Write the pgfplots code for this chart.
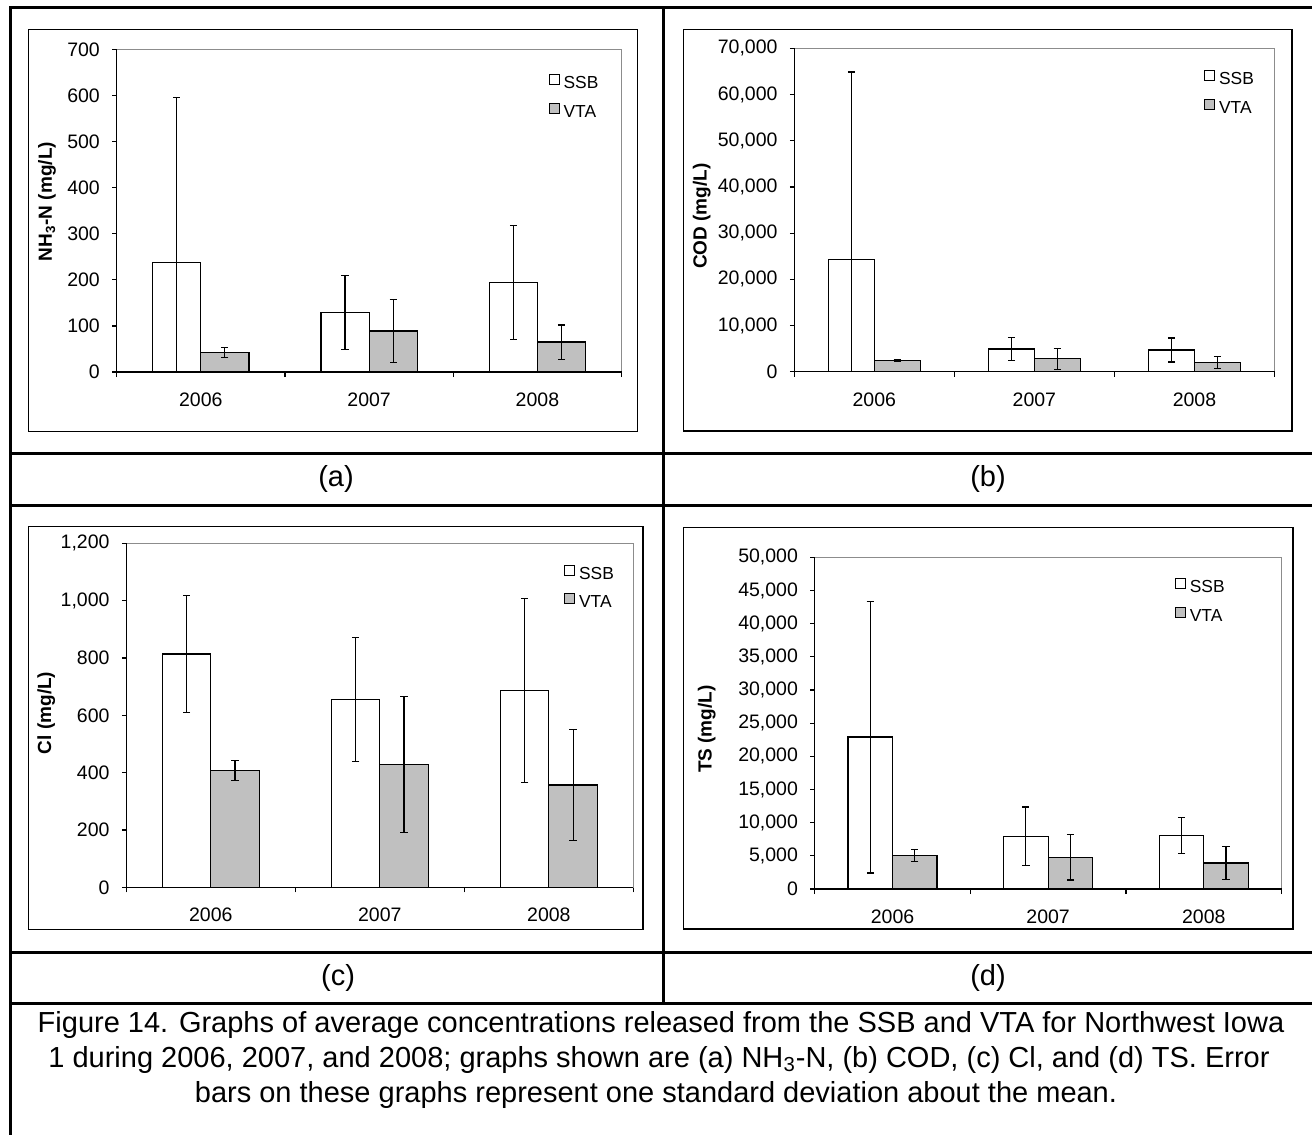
\documentclass[border=0pt]{standalone}
\usepackage{pgfplots}
\pgfplotsset{compat=1.18}
\usepackage{fontspec}
\setmainfont{Liberation Sans}
\definecolor{vtagray}{HTML}{C0C0C0}
\definecolor{plotgray}{HTML}{8C8C8C}
\newcommand{\tickfont}{\fontsize{9.75}{11}\selectfont}
\pgfplotsset{
  panel/.style={
    scale only axis,
    ybar,
    bar width=0.286,
    xmin=-0.5, xmax=2.5, ymin=0,
    xtick={0,1,2},
    xticklabels={2006,2007,2008},
    minor xtick={-0.5,0.5,1.5,2.5},
    major x tick style={draw=none},
    minor x tick style={black,line width=0.6pt},
    y tick style={black,line width=0.6pt},
    tick align=outside,
    major tick length=2.2pt,
    minor tick length=2.5pt,
    xtick pos=bottom, ytick pos=left,
    axis line style={draw=plotgray,line width=0.5pt},
    clip mode=individual,
    tick label style={font=\tickfont},
    /pgf/number format/assume math mode=true,
    /pgf/number format/1000 sep={,},
    scaled y ticks=false,
    yticklabel style={inner sep=0pt, xshift=-6pt},
    xticklabel style={inner sep=0pt, yshift=-8pt},
    ylabel style={font=\bfseries\fontsize{9.5}{11}\selectfont, anchor=center},
    legend style={draw=none, fill=none, anchor=west, inner sep=0pt,
      font=\fontsize{8.7}{10}\selectfont, row sep=2.8pt},
    legend cell align=left,
    legend image code/.code={\draw[##1,draw=black,line width=0.4pt] (-0.5pt,-0.3pt) rectangle (4.5pt,4.7pt);},
  },
  ssb/.style={fill=white, draw=black, line width=0.6pt, bar shift=-0.143,
    error bars/y dir=both, error bars/y explicit,
    error bars/error bar style={black,line width=0.55pt},
    error bars/error mark options={black, rotate=90, mark size=1.8pt, line width=0.55pt}},
  vta/.style={fill=vtagray, draw=black, line width=0.6pt, bar shift=0.143,
    error bars/y dir=both, error bars/y explicit,
    error bars/error bar style={black,line width=0.55pt},
    error bars/error mark options={black, rotate=90, mark size=1.8pt, line width=0.55pt}},
}
\begin{document}
\begin{tikzpicture}[x=0.5pt,y=-0.5pt]
\path[use as bounding box] (0,0) rectangle (1312,1135);
% table grid
\draw[black,line width=1.5pt] (10,1135) -- (10,7) -- (1312,7);
\draw[black,line width=1.5pt] (10,453) -- (1312,453);
\draw[black,line width=1.5pt] (10,505) -- (1312,505);
\draw[black,line width=1.5pt] (10,952) -- (1312,952);
\draw[black,line width=1.5pt] (10,1003) -- (1312,1003);
\draw[black,line width=1.5pt] (663,7) -- (663,1003);
% chart frames
\draw[black,line width=0.75pt] (28.6,29.3) rectangle (637.6,431.7);
\draw[black,line width=0.75pt] (683.7,29.3) rectangle (1292,431);
\draw[black,line width=0.75pt] (28.6,526.7) rectangle (643,929.3);
\draw[black,line width=0.75pt] (683.7,527.3) rectangle (1292.9,929);
% panel labels
\node[font=\fontsize{14.5}{17}\selectfont] at (336,479) {(a)};
\node[font=\fontsize{14.5}{17}\selectfont] at (988,479) {(b)};
\node[font=\fontsize{14.5}{17}\selectfont] at (338,978) {(c)};
\node[font=\fontsize{14.5}{17}\selectfont] at (988,978) {(d)};
% caption
\node[font=\fontsize{14.5}{17}\selectfont, anchor=base] at (661,1032) {Figure 14. Graphs of average concentrations released from the SSB and VTA for Northwest Iowa};
\node[font=\fontsize{14.5}{17}\selectfont, anchor=base] at (659,1067) {1 during 2006, 2007, and 2008; graphs shown are (a) NH\textsubscript{3}-N, (b) COD, (c) Cl, and (d) TS. Error};
\node[font=\fontsize{14.5}{17}\selectfont, anchor=base] at (656,1102) {bars on these graphs represent one standard deviation about the mean.};

% (a)
\begin{axis}[panel, at={(58.3pt,-186pt)}, anchor=south west,
  width=252.5pt, height=161.35pt, ymax=700, ytick={0,100,...,700},
  ylabel={NH\textsubscript{3}-N (mg/L)},
  ylabel style={at={(axis description cs:-0.1376,0.528)}},
  legend style={at={(axis description cs:0.855,0.848)}}]
\addplot[ssb] coordinates {(0,238) +- (0,357) (1,129) +- (0,81) (2,194) +- (0,124)};
\addplot[vta] coordinates {(0,42) +- (0,11) (1,89) +- (0,69) (2,65) +- (0,37)};
\legend{SSB,VTA}
\draw[black,line width=0.75pt] (rel axis cs:0,1) -- (rel axis cs:0,0) -- (rel axis cs:1,0);
\end{axis}

% (b)
\begin{axis}[panel, at={(397.15pt,-185.85pt)}, anchor=south west,
  width=240.1pt, height=161.7pt, ymax=70000, ytick={0,10000,...,70000},
  ylabel={COD (mg/L)},
  ylabel style={at={(axis description cs:-0.193,0.481)}},
  legend style={at={(axis description cs:0.853,0.858)}}]
\addplot[ssb] coordinates {(0,24330) +- (0,40540) (1,4900) +- (0,2500) (2,4700) +- (0,2600)};
\addplot[vta] coordinates {(0,2380) +- (0,200) (1,2800) +- (0,2300) (2,1950) +- (0,1250)};
\legend{SSB,VTA}
\draw[black,line width=0.75pt] (rel axis cs:0,1) -- (rel axis cs:0,0) -- (rel axis cs:1,0);
\end{axis}

% (c)
\begin{axis}[panel, at={(63.15pt,-443.65pt)}, anchor=south west,
  width=253.55pt, height=172pt, ymax=1200, ytick={0,200,...,1200},
  ylabel={Cl (mg/L)},
  ylabel style={at={(axis description cs:-0.158,0.507)}},
  legend style={at={(axis description cs:0.863,0.868)}}]
\addplot[ssb] coordinates {(0,814) +- (0,204) (1,656) +- (0,216) (2,687) +- (0,322)};
\addplot[vta] coordinates {(0,407) +- (0,34) (1,428) +- (0,238) (2,357) +- (0,195)};
\legend{SSB,VTA}
\draw[black,line width=0.75pt] (rel axis cs:0,1) -- (rel axis cs:0,0) -- (rel axis cs:1,0);
\end{axis}

% (d)
\begin{axis}[panel, at={(407.35pt,-444.5pt)}, anchor=south west,
  width=233.45pt, height=165.85pt, ymax=50000, ytick={0,5000,...,50000},
  ylabel={TS (mg/L)},
  ylabel style={at={(axis description cs:-0.231,0.482)}},
  legend style={at={(axis description cs:0.771,0.864)}}]
\addplot[ssb] coordinates {(0,22900) +- (0,20480) (1,7940) +- (0,4420) (2,8070) +- (0,2740)};
\addplot[vta] coordinates {(0,5020) +- (0,930) (1,4800) +- (0,3440) (2,3925) +- (0,2515)};
\legend{SSB,VTA}
\draw[black,line width=0.75pt] (rel axis cs:0,1) -- (rel axis cs:0,0) -- (rel axis cs:1,0);
\end{axis}
\end{tikzpicture}
\end{document}
